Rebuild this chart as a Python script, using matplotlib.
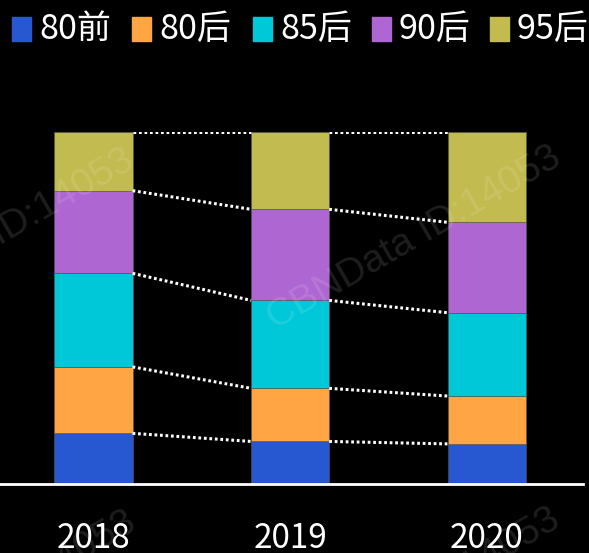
import matplotlib
matplotlib.use("Agg")
import matplotlib.pyplot as plt
from matplotlib.patches import Rectangle
import numpy as np

plt.rcParams['font.family'] = ['Noto Sans CJK SC', 'DejaVu Sans']

years = ['2018', '2019', '2020']
groups = ['80前', '80后', '85后', '90后', '95后']
colors = ['#2757D1', '#FFA544', '#00C8D8', '#AE66D2', '#C2BB4F']

# share of each generation per year (%)
share_80q = [14.4, 12.1, 11.4]
share_80h = [18.9, 15.1, 13.6]
share_85h = [26.6, 25.0, 23.7]
share_90h = [23.5, 25.9, 25.7]
share_95h = [16.6, 21.9, 25.6]
series = [share_80q, share_80h, share_85h, share_90h, share_95h]

W, H = 589, 553
fig = plt.figure(figsize=(W / 100, H / 100), dpi=100)
fig.patch.set_facecolor('black')

# axes placed in pixel terms
ax_l, ax_r = 0, 583
ax_b, ax_t = H - 484, H - 132.3
ax = fig.add_axes([ax_l / W, ax_b / H, (ax_r - ax_l) / W, (ax_t - ax_b) / H])
ax.set_facecolor('black')

x = np.arange(len(years))
width = 0.397
bottom = np.zeros(len(years))
tops = []
for vals, c in zip(series, colors):
    vals = np.array(vals, dtype=float)
    ax.bar(x, vals, width, bottom=bottom, color=c, edgecolor='#555555',
           linewidth=0.4, zorder=2)
    bottom = bottom + vals
    tops.append(bottom.copy())

# dotted connectors between columns
for cum in tops:
    cum = cum / bottom * 100
    for i in range(len(years) - 1):
        ax.plot([x[i] + width / 2, x[i + 1] - width / 2], [cum[i], cum[i + 1]],
                color='white', lw=2.2, dashes=(0.9, 0.9), zorder=3)

ax.set_xlim(-0.4755, 2.489)
ax.set_ylim(0, 100)
ax.set_yticks([])
ax.set_xticks(x)
ax.set_xticklabels(years, fontsize=24, color='white')
ax.tick_params(axis='x', length=0, pad=27)
for s in ['top', 'right', 'left']:
    ax.spines[s].set_visible(False)
ax.spines['bottom'].set_color('white')
ax.spines['bottom'].set_linewidth(2)

# legend across the top
leg_sq_x = [12, 132, 253, 372, 490]
for sx, g, c in zip(leg_sq_x, groups, colors):
    fig.patches.append(Rectangle((sx / W, (H - 41) / H), 19 / W, 24 / H,
                                 transform=fig.transFigure, color=c))
    fig.text((sx + 27) / W, (H - 29) / H, g, color='white', fontsize=24.5,
             va='center', ha='left')

# faint watermark (positions given from the top-left, in pixels)
wm_color = (1, 1, 1, 0.12)
for wx, wy in [(414, 238), (-13, 241), (-11, 603), (413, 600)]:
    fig.text(wx / W, (H - wy) / H, 'CBNData ID:14053', color=wm_color,
             fontsize=28, rotation=30, ha='center', va='center',
             family='Liberation Sans')

fig.savefig('out.png', dpi=100, facecolor='black')
